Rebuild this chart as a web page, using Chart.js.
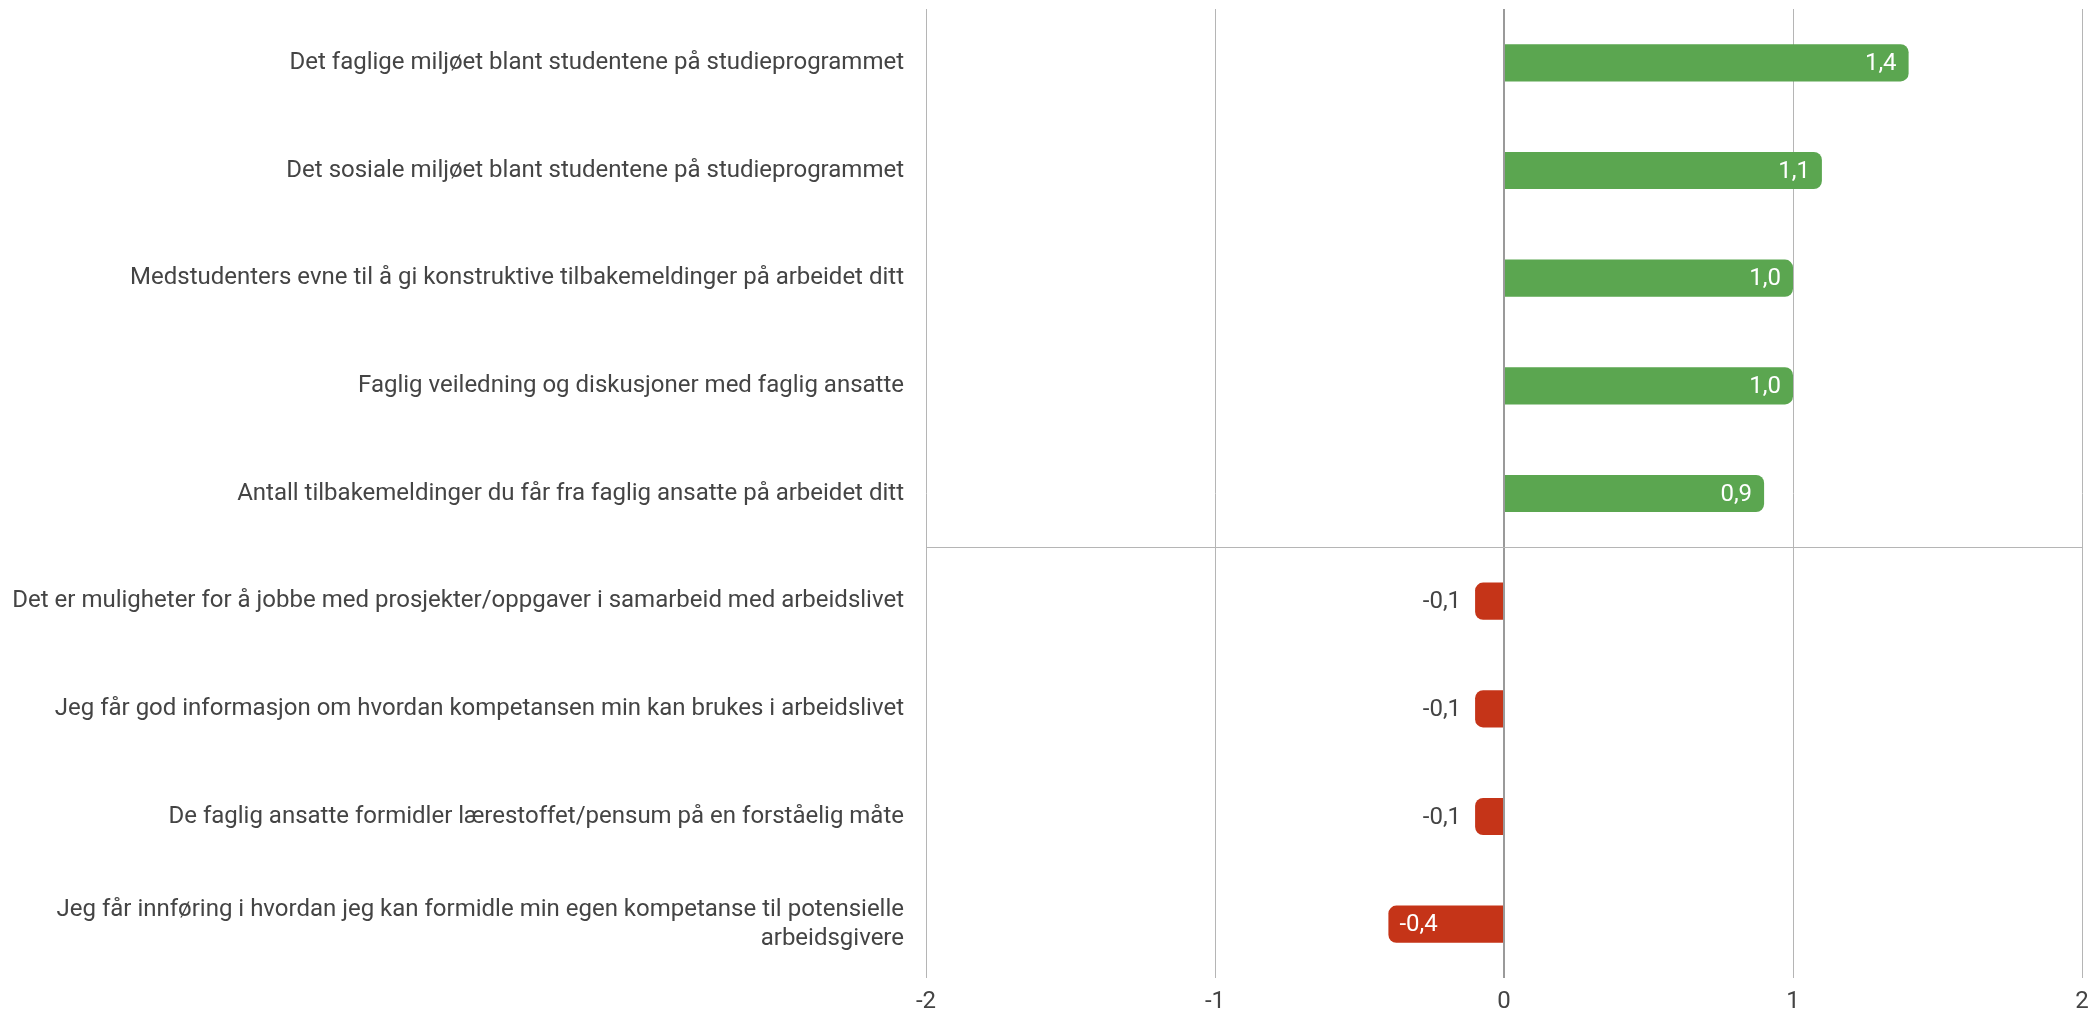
<!DOCTYPE html>
<html lang="no">
<head>
    <meta charset="UTF-8">
    <title>Studiemiljø</title>
    <script src="https://cdn.jsdelivr.net/npm/chart.js"></script>
    <style>
        html, body {
            margin: 0;
            padding: 0;
            background: #ffffff;
        }
        #wrap {
            width: 2100px;
            height: 1016px;
        }
    </style>
</head>
<body>
    <div id="wrap">
        <canvas id="chart"></canvas>
    </div>
    <script>
        const categories = [
            'Det faglige miljøet blant studentene på studieprogrammet',
            'Det sosiale miljøet blant studentene på studieprogrammet',
            'Medstudenters evne til å gi konstruktive tilbakemeldinger på arbeidet ditt',
            'Faglig veiledning og diskusjoner med faglig ansatte',
            'Antall tilbakemeldinger du får fra faglig ansatte på arbeidet ditt',
            'Det er muligheter for å jobbe med prosjekter/oppgaver i samarbeid med arbeidslivet',
            'Jeg får god informasjon om hvordan kompetansen min kan brukes i arbeidslivet',
            'De faglig ansatte formidler lærestoffet/pensum på en forståelig måte',
            ['Jeg får innføring i hvordan jeg kan formidle min egen kompetanse til potensielle', 'arbeidsgivere']
        ];
        const values = [1.4, 1.1, 1.0, 1.0, 0.9, -0.1, -0.1, -0.1, -0.4];
        const xTicks = [-2, -1, 0, 1, 2];

        const GREEN = '#5ba650';
        const RED = '#c53418';
        const TEXT = '#444444';
        const GRID = '#b5b5b5';
        const FONT = 'Roboto';

        // skriver verdien på/ved siden av hver stolpe
        const valueLabels = {
            id: 'valueLabels',
            afterDatasetsDraw(chart) {
                const ctx = chart.ctx;
                const meta = chart.getDatasetMeta(0);
                ctx.save();
                ctx.font = '24px ' + FONT;
                ctx.textBaseline = 'middle';
                meta.data.forEach((bar, i) => {
                    const v = values[i];
                    const text = v.toFixed(1).replace('.', ',');
                    const w = ctx.measureText(text).width;
                    const len = Math.abs(bar.x - bar.base);
                    if (len > w + 24) {
                        ctx.fillStyle = '#ffffff';
                        if (v >= 0) {
                            ctx.textAlign = 'right';
                            ctx.fillText(text, bar.x - 12, bar.y + 1);
                        } else {
                            ctx.textAlign = 'left';
                            ctx.fillText(text, bar.x + 11, bar.y + 1);
                        }
                    } else {
                        ctx.fillStyle = TEXT;
                        if (v >= 0) {
                            ctx.textAlign = 'left';
                            ctx.fillText(text, bar.x + 14, bar.y + 1);
                        } else {
                            ctx.textAlign = 'right';
                            ctx.fillText(text, bar.x - 14, bar.y + 1);
                        }
                    }
                });
                ctx.restore();
            }
        };

        const chart = new Chart(document.getElementById('chart'), {
            type: 'bar',
            data: {
                labels: categories,
                datasets: [{
                    data: values,
                    backgroundColor: ctx => ctx.raw < 0 ? RED : GREEN,
                    borderRadius: 8,
                    borderSkipped: 'start',
                    categoryPercentage: 1,
                    barPercentage: 0.345
                }]
            },
            options: {
                indexAxis: 'y',
                responsive: true,
                maintainAspectRatio: false,
                animation: false,
                layout: {
                    padding: { top: 9, right: 18, bottom: 0, left: 0 }
                },
                plugins: {
                    legend: { display: false },
                    tooltip: { enabled: false }
                },
                scales: {
                    x: {
                        min: -2,
                        max: 2,
                        afterBuildTicks: scale => {
                            scale.ticks = xTicks.map(v => ({ value: v }));
                        },
                        afterFit: scale => {
                            scale.height = 38;
                            scale.paddingLeft = 0;
                            scale.paddingRight = 0;
                        },
                        border: { display: false },
                        grid: {
                            drawTicks: false,
                            color: ctx => ctx.tick && ctx.tick.value === 0 ? '#9a9a9a' : GRID,
                            lineWidth: ctx => ctx.tick && ctx.tick.value === 0 ? 2 : 1
                        },
                        ticks: {
                            padding: 10,
                            color: TEXT,
                            font: { family: FONT, size: 24 },
                            callback: v => String(v)
                        }
                    },
                    y: {
                        afterFit: scale => {
                            scale.width = 926;
                            scale.paddingTop = 0;
                            scale.paddingBottom = 0;
                        },
                        border: { display: false },
                        grid: {
                            offset: true,
                            drawTicks: false,
                            color: ctx => ctx.index === 5 ? GRID : 'rgba(0,0,0,0)',
                            lineWidth: 1
                        },
                        ticks: {
                            padding: 22,
                            color: TEXT,
                            font: { family: FONT, size: 24 }
                        }
                    }
                }
            },
            plugins: [valueLabels]
        });
    </script>
</body>
</html>
